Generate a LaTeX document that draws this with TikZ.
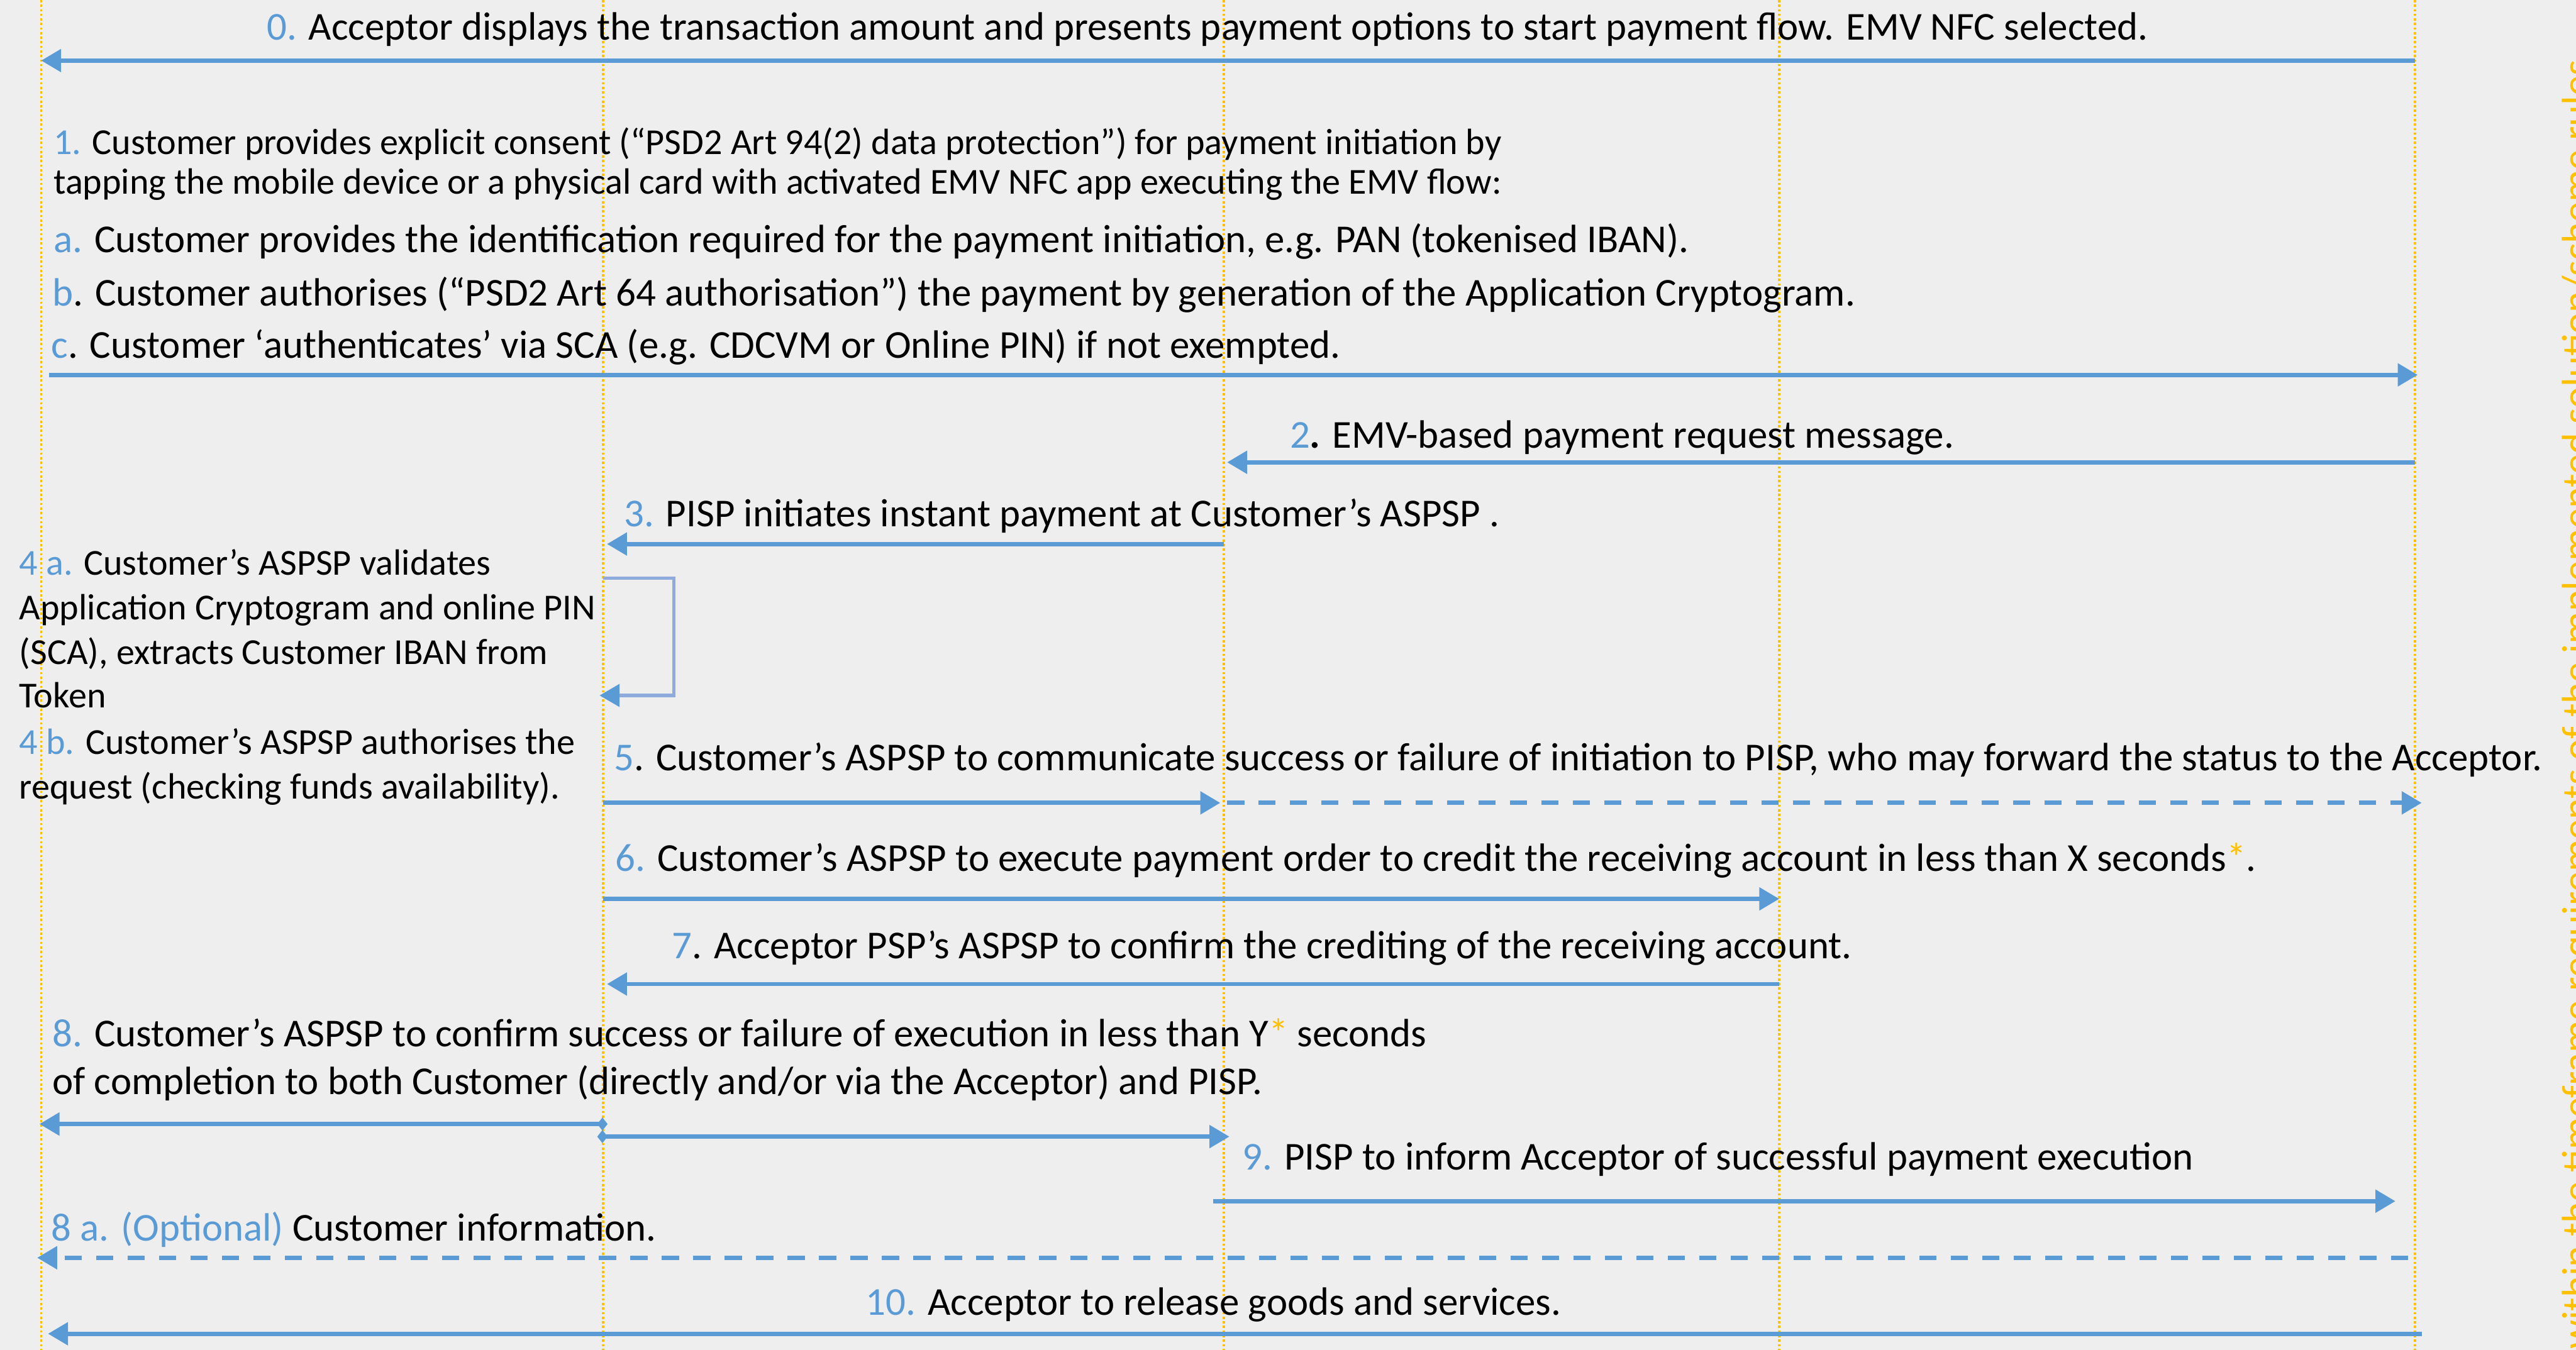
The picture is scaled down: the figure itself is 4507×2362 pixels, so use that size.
\documentclass[tikz,border=0pt]{standalone}
\usepackage{fontspec}
\setmainfont{Carlito}
\usetikzlibrary{arrows.meta,calc}
\definecolor{msgblue}{HTML}{5B9BD5}
\definecolor{loopblue}{HTML}{8FAADC}
\definecolor{lifeorange}{HTML}{FFC000}
\definecolor{bggray}{HTML}{EEEEEE}
\newcommand\nb[1]{\textcolor{msgblue}{#1}}
\newcommand\ostar{\textcolor{lifeorange}{*}}
\tikzset{
  lifeline/.style={draw=lifeorange, line width=1pt, dash pattern=on 1pt off 1pt},
  msg/.style={draw=msgblue, line width=1.9pt, -{Triangle[length=8.75pt,width=9.75pt]}},
  msgdash/.style={msg, dash pattern=on 7.5pt off 6.25pt},
  startdiamond/.style={{Diamond[length=4.5pt,width=5.75pt]}-{Triangle[length=8.75pt,width=9.75pt]}},
  selfloop/.style={draw=loopblue, line width=1.5pt, -{Triangle[length=8.75pt,width=9.75pt,color=msgblue]}},
  lbl/.style={anchor=base west, inner sep=0pt, font=\fontsize{17.3}{20}\selectfont},
  lblsmall/.style={lbl, font=\fontsize{16}{19}\selectfont},
  note/.style={anchor=north west, inner sep=0pt, rotate=90, text=lifeorange, font=\fontsize{17.7}{20}\selectfont},
}
\begin{document}
\begin{tikzpicture}[x=0.25pt,y=-0.25pt]
\clip (0,0) rectangle (4507,2362);
\fill[bggray] (0,0) rectangle (4507,2362);

% lifelines: Customer, Customer's ASPSP, PISP, Acceptor PSP's ASPSP, Acceptor
\coordinate (L1) at (72,0);
\coordinate (L2) at (1055,0);
\coordinate (L3) at (2141,0);
\coordinate (L4) at (3113,0);
\coordinate (L5) at (4225,0);
\coordinate (bottom) at (0,2362);
\foreach \l in {L1,L2,L3,L4,L5} \draw[lifeline] (\l) -- (\l |- bottom);

% message rows
\coordinate (y0) at (0,106);
\coordinate (y1) at (0,656);
\coordinate (y2) at (0,809);
\coordinate (y3) at (0,952);
\coordinate (y5) at (0,1405);
\coordinate (y6) at (0,1573);
\coordinate (y7) at (0,1722);
\coordinate (y8l) at (0,1967);
\coordinate (y8r) at (0,1989);
\coordinate (y9) at (0,2102);
\coordinate (y8a) at (0,2201);
\coordinate (y10) at (0,2334);

% step 0
\node[lbl] (t0) at (466,70) {\nb{0.} Acceptor displays the transaction amount and presents payment options to start payment flow. EMV NFC selected.};
\draw[msg] (L5 |- y0) -- (L1 |- y0);

% step 1
\node[lblsmall] (t1a) at (93,270) {\nb{1.} Customer provides explicit consent (“PSD2 Art 94(2) data protection”) for payment initiation by};
\node[lblsmall] (t1b) at (93,339) {tapping the mobile device or a physical card with activated EMV NFC app executing the EMV flow:};
\node[lbl] (t1c) at (93,442) {\nb{a.} Customer provides the identification required for the payment initiation, e.g. PAN (tokenised IBAN).};
\node[lbl] (t1d) at (91,535) {\nb{b}. Customer authorises (“PSD2 Art 64 authorisation”) the payment by generation of the Application Cryptogram.};
\node[lbl] (t1e) at (89,627) {\nb{c}. Customer ‘authenticates’ via SCA (e.g. CDCVM or Online PIN) if not exempted.};
\draw[msg] ($(L1 |- y1)+(14,0)$) -- ($(L5 |- y1)+(5,0)$);

% step 2
\node[lbl] (t2) at (2256,784) {\nb{2}\textbf{.} EMV-based payment request message.};
\draw[msg] (L5 |- y2) -- ($(L3 |- y2)+(6,0)$);

% step 3
\node[lbl] (t3) at (1091,921) {\nb{3.} PISP initiates instant payment at Customer’s ASPSP .};
\draw[msg] (L3 |- y3) -- ($(L2 |- y3)+(7,0)$);

% step 4: validation loop on the Customer's ASPSP
\coordinate (loopout) at (1055,1012);
\coordinate (loopin) at (1049,1217);
\draw[selfloop] (loopout) -| (1179,1217) -- (loopin);
\node[lblsmall] (t4a1) at (33,1006) {\nb{4 a.} Customer’s ASPSP validates};
\node[lblsmall] (t4a2) at (33,1084) {Application Cryptogram and online PIN};
\node[lblsmall] (t4a3) at (33,1162) {(SCA), extracts Customer IBAN from};
\node[lblsmall] (t4a4) at (33,1238) {Token};
\node[lblsmall] (t4b1) at (33,1320) {\nb{4 b.} Customer’s ASPSP authorises the};
\node[lblsmall] (t4b2) at (33,1398) {request (checking funds availability).};

% step 5
\node[lbl] (t5) at (1074,1349) {\nb{5}. Customer’s ASPSP to communicate success or failure of initiation to PISP, who may forward the status to the Acceptor.};
\draw[msg] (L2 |- y5) -- ($(L3 |- y5)+(-6,0)$);
\draw[msgdash] ($(L3 |- y5)+(6,0)$) -- ($(L5 |- y5)+(12,0)$);

% step 6
\node[lbl] (t6) at (1076,1525) {\nb{6.} Customer’s ASPSP to execute payment order to credit the receiving account in less than X seconds\ostar.};
\draw[msg] (L2 |- y6) -- (L4 |- y6);

% step 7
\node[lbl] (t7) at (1175,1677) {\nb{7}. Acceptor PSP’s ASPSP to confirm the crediting of the receiving account.};
\draw[msg] (L4 |- y7) -- ($(L2 |- y7)+(7,0)$);

% step 8
\node[lbl] (t8a) at (91,1831) {\nb{8.} Customer’s ASPSP to confirm success or failure of execution in less than Y\ostar{} seconds};
\node[lbl] (t8b) at (91,1915) {of completion to both Customer (directly and/or via the Acceptor) and PISP.};
\draw[msg, startdiamond] ($(L2 |- y8l)+(8,0)$) -- ($(L1 |- y8l)+(-3,0)$);
\draw[msg, startdiamond] ($(L2 |- y8r)+(-10,0)$) -- ($(L3 |- y8r)+(10,0)$);

% step 9
\node[lbl] (t9) at (2173,2047) {\nb{9.} PISP to inform Acceptor of successful payment execution};
\draw[msg] ($(L3 |- y9)+(-18,0)$) -- ($(L5 |- y9)+(-34,0)$);

% step 8 a
\node[lbl] (t8opt) at (89,2171) {\nb{8 a. (Optional)} Customer information.};
\draw[msgdash] ($(L5 |- y8a)+(-12,0)$) -- ($(L1 |- y8a)+(-7,0)$);

% step 10
\node[lbl] (t10) at (1514,2301) {\nb{10.} Acceptor to release goods and services.};
\draw[msg] ($(L5 |- y10)+(12,0)$) -- ($(L1 |- y10)+(12,0)$);

% footnote on the right margin
\node[note] (fn) at (4482,2362) {within the timeframe requirements of the implemented solution/scheme rules};
\end{tikzpicture}
\end{document}
